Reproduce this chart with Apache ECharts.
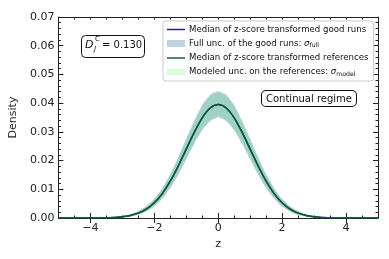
<!DOCTYPE html>
<html><head><meta charset="utf-8">
<script src="https://cdn.jsdelivr.net/npm/echarts@6/dist/echarts.min.js"></script>
<style>html,body{margin:0;padding:0;background:#fff}#c{width:389px;height:259px}</style>
</head><body><div id="c"></div>
<script>
var zVals = [-5,-4.75,-4.5,-4.25,-4,-3.75,-3.5,-3.25,-3,-2.75,-2.5,-2.25,-2,-1.75,-1.5,-1.25,-1,-0.75,-0.5,-0.25,0,0.25,0.5,0.75,1,1.25,1.5,1.75,2,2.25,2.5,2.75,3,3.25,3.5,3.75,4,4.25,4.5,4.75,5];
var goodMedian = [0,0,0,0,0,0,0.0001,0.0002,0.0004,0.0009,0.0017,0.0031,0.0053,0.0085,0.0128,0.0181,0.0240,0.0298,0.0349,0.0383,0.0395,0.0383,0.0349,0.0298,0.0240,0.0181,0.0128,0.0085,0.0053,0.0031,0.0017,0.0009,0.0004,0.0002,0.0001,0,0,0,0,0,0];
var fullUpper = [0,0,0,0,0,0,0.0001,0.0003,0.0007,0.0013,0.0024,0.0041,0.0067,0.0104,0.0153,0.0212,0.0277,0.0339,0.0394,0.0430,0.0442,0.0430,0.0394,0.0339,0.0277,0.0212,0.0153,0.0104,0.0067,0.0041,0.0024,0.0013,0.0007,0.0003,0.0001,0,0,0,0,0,0];
var fullLower = [0,0,0,0,0,0,0,0.0001,0.0002,0.0005,0.0011,0.0022,0.0040,0.0067,0.0104,0.0151,0.0204,0.0258,0.0305,0.0337,0.0350,0.0337,0.0305,0.0258,0.0204,0.0151,0.0104,0.0067,0.0040,0.0022,0.0011,0.0005,0.0002,0.0001,0,0,0,0,0,0,0];
var refMedian = [0,0,0,0,0,0,0.0001,0.0002,0.0004,0.0009,0.0017,0.0031,0.0053,0.0085,0.0128,0.0181,0.0240,0.0298,0.0349,0.0383,0.0395,0.0383,0.0349,0.0298,0.0240,0.0181,0.0128,0.0085,0.0053,0.0031,0.0017,0.0009,0.0004,0.0002,0.0001,0,0,0,0,0,0];
var modelUpper = [0,0,0,0,0,0,0.0001,0.0003,0.0006,0.0013,0.0023,0.0040,0.0066,0.0102,0.0151,0.0209,0.0273,0.0334,0.0389,0.0425,0.0437,0.0425,0.0389,0.0334,0.0273,0.0209,0.0151,0.0102,0.0066,0.0040,0.0023,0.0013,0.0006,0.0003,0.0001,0,0,0,0,0,0];
var modelLower = [0,0,0,0,0,0,0,0.0001,0.0002,0.0006,0.0012,0.0023,0.0041,0.0069,0.0106,0.0154,0.0208,0.0262,0.0309,0.0341,0.0354,0.0341,0.0309,0.0262,0.0208,0.0154,0.0106,0.0069,0.0041,0.0023,0.0012,0.0006,0.0002,0.0001,0,0,0,0,0,0,0];
var xMajorTicks = [-4,-2,0,2,4];
var yTickLabels = ['0.00','0.01','0.02','0.03','0.04','0.05','0.06','0.07'];

var names = [
  'Median of z-score transformed good runs',
  'Full unc. of the good runs: {i|σ}{s|full}',
  'Median of z-score transformed references',
  'Modeled unc. on the references: {i|σ}{s|model}'
];
var F = 'DejaVu Sans';
var lineIcon = 'path://M0,0h20v1.6h-20z';
function pairs(ys){ return zVals.map(function(z,i){return [z, ys[i]];}); }
function band(lo, hi, color){
  return function(params, api){
    if (params.dataIndex !== 0) return null;
    var pts = [];
    for (var i=0;i<zVals.length;i++) pts.push(api.coord([zVals[i], hi[i]]));
    for (var j=zVals.length-1;j>=0;j--) pts.push(api.coord([zVals[j], lo[j]]));
    return {type:'polygon', shape:{points:pts, smooth:0.2}, style:{fill:color, stroke:null}};
  };
}
var chart = echarts.init(document.getElementById('c'), null, {renderer:'canvas'});
var axisCommon = {min:-5, max:5, axisLine:{show:true, onZero:false, lineStyle:{color:'#222', width:1}}, splitLine:{show:false}};
chart.setOption({
  animation:false,
  textStyle:{fontFamily:F},
  grid:{left:56, right:11, top:17, bottom:41, containLabel:false},
  legend:{
    orient:'vertical', left:163, top:21, itemWidth:18, itemHeight:7, itemGap:5,
    padding:[4,5,4,4], borderColor:'#cccccc', borderWidth:1, borderRadius:3,
    backgroundColor:'rgba(255,255,255,0.85)',
    textStyle:{fontFamily:F, fontSize:8.6, color:'#111', padding:[0,0,0,-1],
      rich:{i:{fontFamily:F, fontStyle:'italic', fontSize:8.6, color:'#111'}, s:{fontFamily:F, fontSize:6.2, color:'#111', verticalAlign:'bottom', padding:[4,0,0,0]}}},
    data:[
      {name:names[0], icon:lineIcon, itemStyle:{color:'#1c1c8c'}},
      {name:names[1], icon:'rect', itemStyle:{color:'rgba(70,130,180,0.35)'}},
      {name:names[2], icon:lineIcon, itemStyle:{color:'#0b5d2b'}},
      {name:names[3], icon:'rect', itemStyle:{color:'rgba(144,238,144,0.32)'}}
    ]
  },
  xAxis:[
    Object.assign({}, axisCommon, {type:'value', position:'bottom', interval:0.5,
      axisTick:{show:true, inside:true, length:2.5, lineStyle:{color:'#222'}},
      axisLabel:{customValues:xMajorTicks, fontFamily:F, fontSize:11, color:'#222', margin:5,
        formatter:function(v){return v<0 ? '\u2212'+Math.abs(v) : String(v);}},
      name:'z', nameLocation:'middle', nameGap:20, nameTextStyle:{fontFamily:F, fontSize:11, color:'#222'}}),
    Object.assign({}, axisCommon, {type:'value', position:'bottom', axisLine:{show:false},
      axisTick:{show:true, inside:true, length:5, customValues:xMajorTicks, lineStyle:{color:'#222'}}, axisLabel:{show:false}}),
    Object.assign({}, axisCommon, {type:'value', position:'top', interval:0.5,
      axisTick:{show:true, inside:true, length:2.5, lineStyle:{color:'#222'}}, axisLabel:{show:false}}),
    Object.assign({}, axisCommon, {type:'value', position:'top', axisLine:{show:false},
      axisTick:{show:true, inside:true, length:5, customValues:xMajorTicks, lineStyle:{color:'#222'}}, axisLabel:{show:false}})
  ],
  yAxis:[
    {type:'value', position:'left', min:0, max:0.07, interval:0.01,
      axisLine:{show:true, onZero:false, lineStyle:{color:'#222'}}, splitLine:{show:false},
      axisTick:{show:true, inside:true, length:5, lineStyle:{color:'#222'}},
      minorTick:{show:true, splitNumber:5, length:2.5, lineStyle:{color:'#222'}}, minorSplitLine:{show:false},
      axisLabel:{fontFamily:F, fontSize:11, color:'#222', margin:4, formatter:function(v){return yTickLabels[Math.round(v*100)];}},
      name:'Density', nameLocation:'middle', nameGap:36, nameTextStyle:{fontFamily:F, fontSize:11, color:'#222'}},
    {type:'value', position:'right', min:0, max:0.07, interval:0.01,
      axisLine:{show:true, onZero:false, lineStyle:{color:'#222'}}, splitLine:{show:false},
      axisTick:{show:true, inside:true, length:5, lineStyle:{color:'#222'}},
      minorTick:{show:true, splitNumber:5, length:2.5, lineStyle:{color:'#222'}}, minorSplitLine:{show:false},
      axisLabel:{show:false}}
  ],
  series:[
    {name:names[1], type:'custom', xAxisIndex:0, yAxisIndex:0, z:1, clip:true,
      itemStyle:{color:'rgba(70,130,180,0.35)'}, data:pairs(fullUpper),
      renderItem:band(fullLower, fullUpper, 'rgba(70,130,180,0.32)')},
    {name:names[3], type:'custom', xAxisIndex:0, yAxisIndex:0, z:2, clip:true,
      itemStyle:{color:'rgba(144,238,144,0.32)'}, data:pairs(modelUpper),
      renderItem:band(modelLower, modelUpper, 'rgba(80,200,120,0.32)')},
    {name:names[0], type:'line', xAxisIndex:0, yAxisIndex:0, z:3, symbol:'none', smooth:0.3,
      lineStyle:{color:'#1c1c8c', width:1.5}, itemStyle:{color:'#1c1c8c'}, data:pairs(goodMedian)},
    {name:names[2], type:'line', xAxisIndex:0, yAxisIndex:0, z:4, symbol:'none', smooth:0.3,
      lineStyle:{color:'#0b5d2b', width:1.5}, itemStyle:{color:'#0b5d2b'}, data:pairs(refMedian)}
  ],
  graphic:[
    {type:'rect', left:81, top:35, shape:{width:63, height:22, r:4}, style:{fill:'#fff', stroke:'#111', lineWidth:1}, z:100},
    {type:'text', left:85, top:40, style:{text:'D', font:'italic 11px "DejaVu Sans"', fill:'#111'}, z:101},
    {type:'text', left:95, top:36, style:{text:'C', font:'7px "DejaVu Sans"', fill:'#111'}, z:101},
    {type:'text', left:94, top:46, style:{text:'J', font:'italic 7px "DejaVu Sans"', fill:'#111'}, z:101},
    {type:'text', left:102, top:40, style:{text:'= 0.130', font:'10px "DejaVu Sans"', fill:'#111'}, z:101},
    {type:'text', left:261, top:90, z:101, style:{text:'Continual regime', font:'10px "DejaVu Sans"', fill:'#111',
      backgroundColor:'#fff', borderColor:'#111', borderWidth:1, borderRadius:4, padding:[3,4,2,4]}}
  ]
});
</script></body></html>
